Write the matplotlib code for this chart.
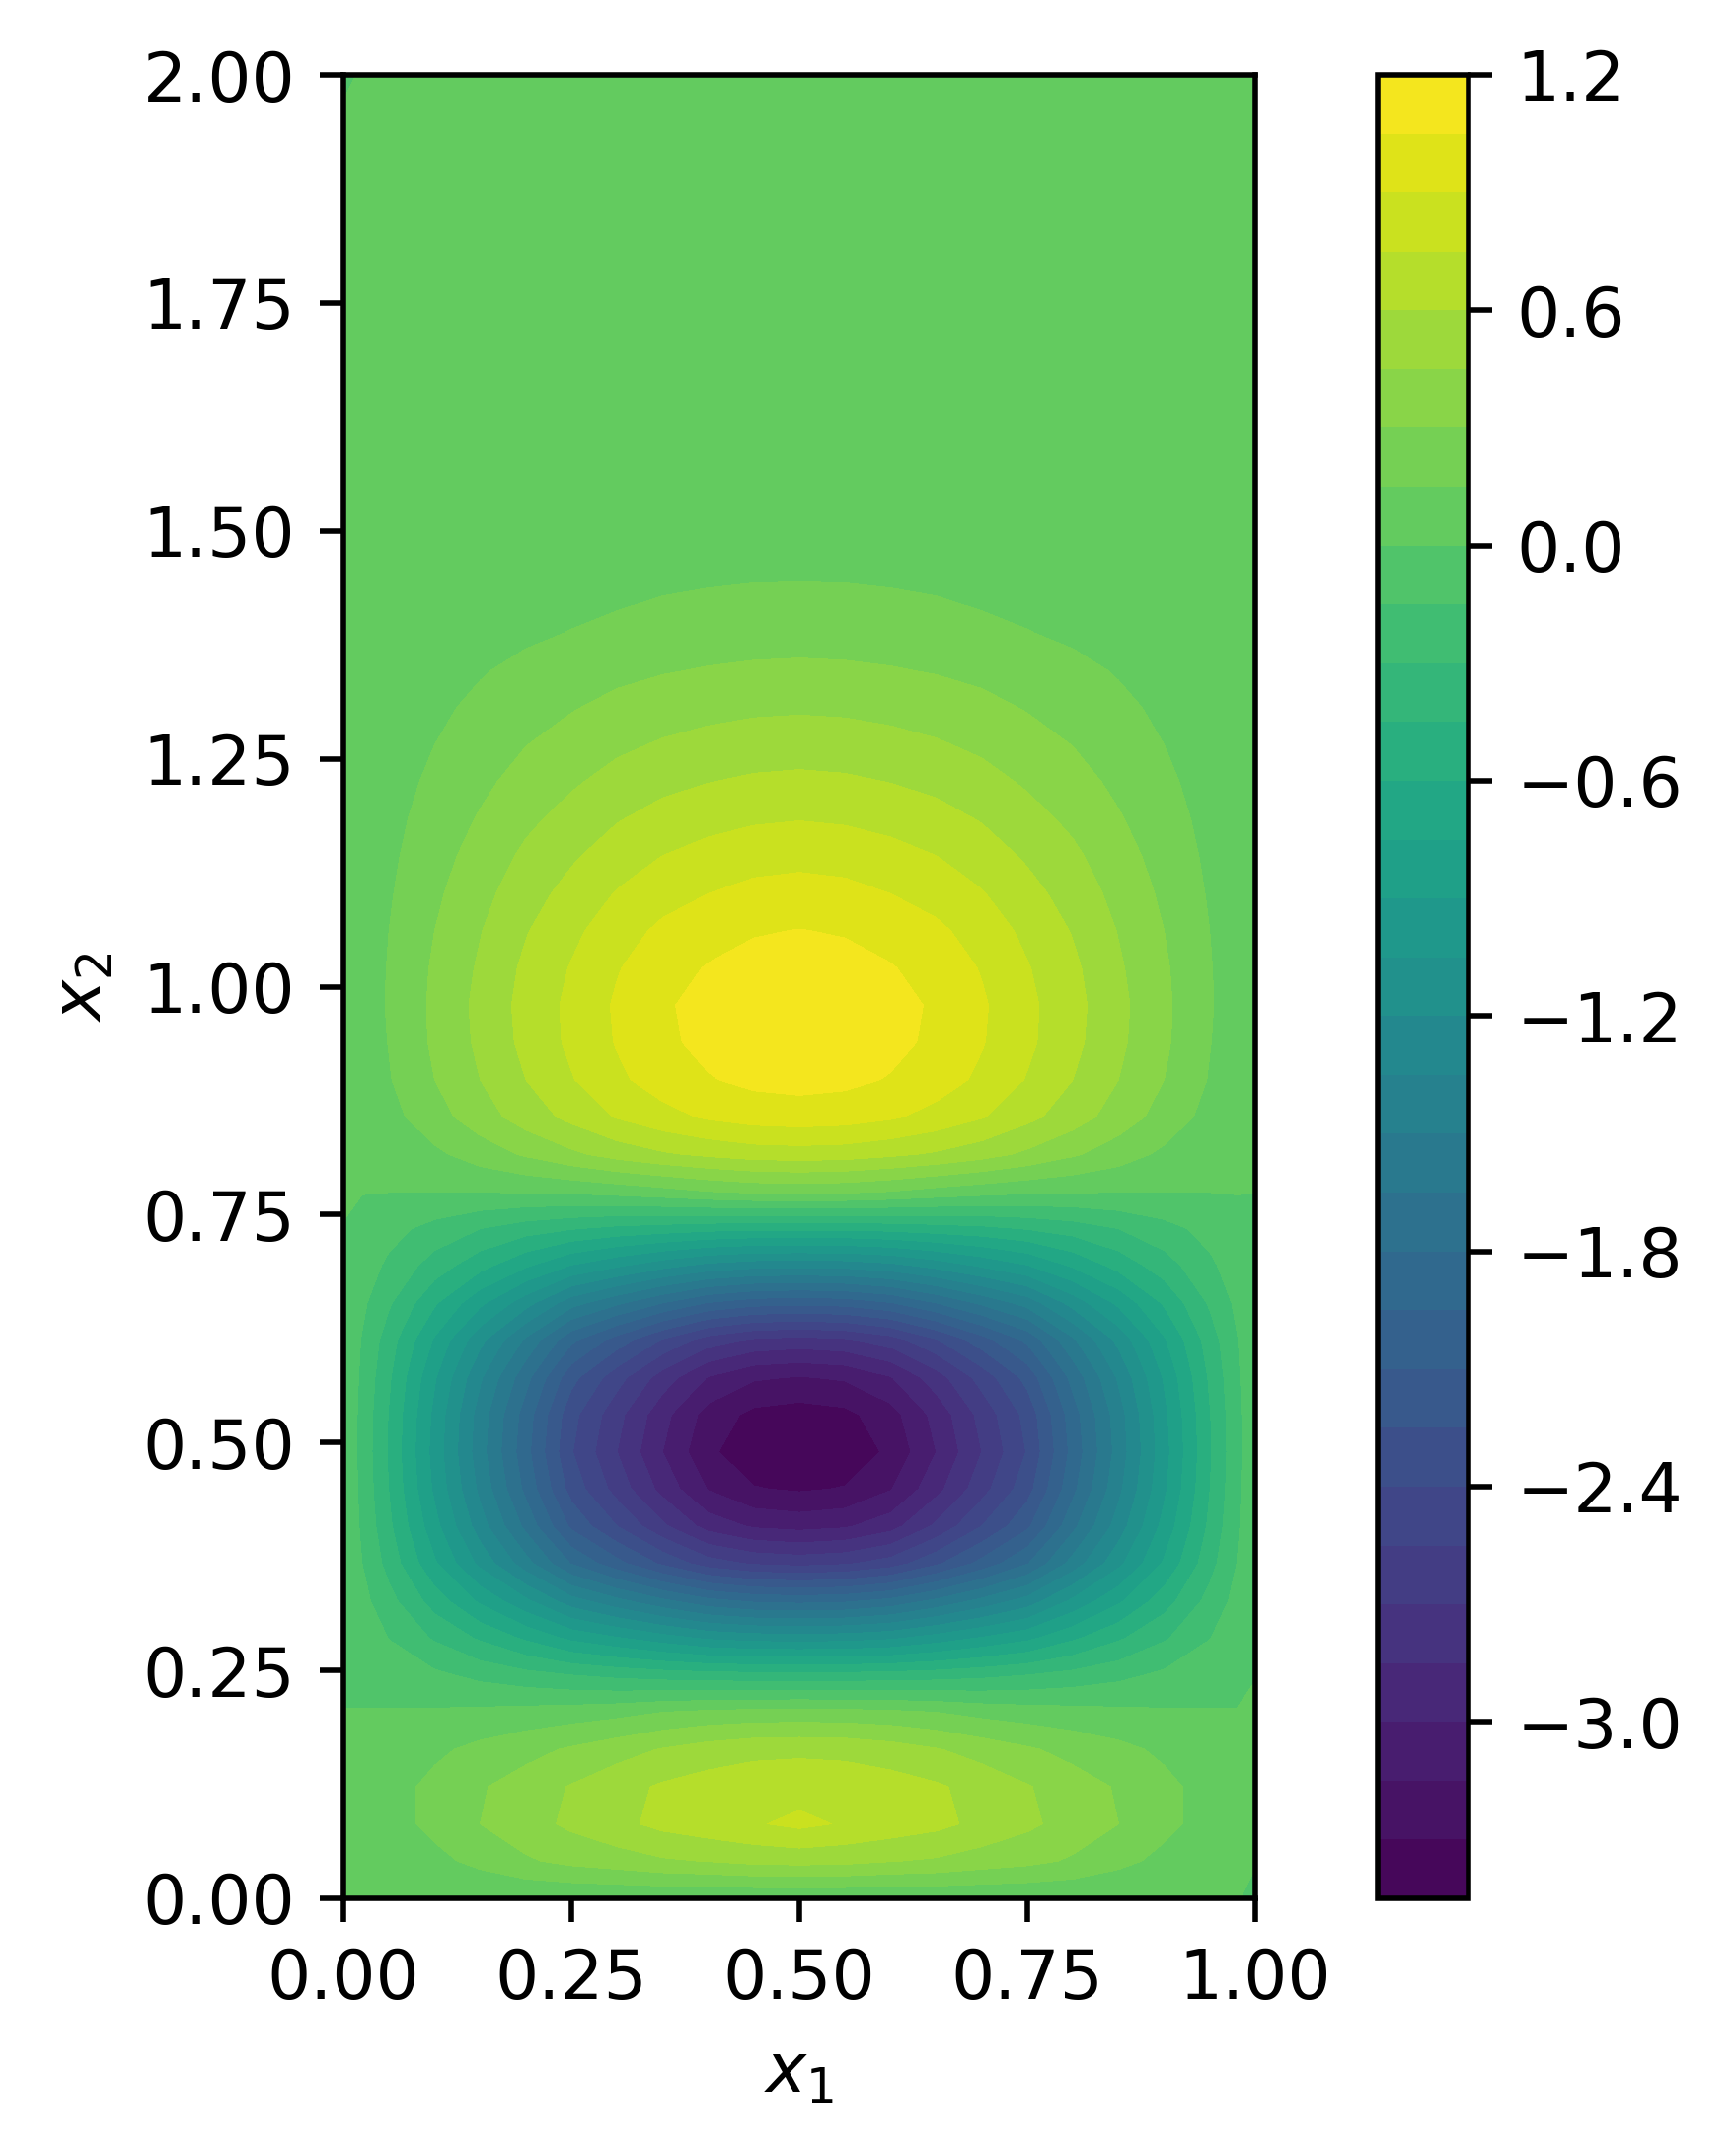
import numpy as np
import matplotlib
matplotlib.use("Agg")
import matplotlib.pyplot as plt

x1_half = [0.0204, 0.05, 0.10, 0.15, 0.20, 0.25, 0.30, 0.35, 0.40, 0.45, 0.50]
x2_rows = [0.0, 0.0408, 0.0816, 0.1224, 0.1633, 0.2041, 0.2449, 0.2857, 0.3265, 0.3673,
           0.4082, 0.4490, 0.4898, 0.5306, 0.5714, 0.6122, 0.6531, 0.6939, 0.7347, 0.7755,
           0.8163, 0.8571, 0.8980, 0.9388, 0.9796, 1.0204, 1.0612, 1.1020, 1.1429, 1.1837,
           1.2245, 1.2653, 1.3061, 1.3469, 1.3878, 1.4286, 1.4694, 1.55, 1.75, 1.9592, 2.0]
left_edge = [0.005, 0.02, 0.03, 0.03, 0.02, 0.001, -0.008, -0.012, -0.015, -0.02,
             -0.02, -0.02, -0.02, -0.02, -0.02, -0.02, -0.015, -0.012, -0.002, 0.008,
             0.02, 0.02, 0.02, 0.02, 0.02, 0.02, 0.02, 0.02, 0.02, 0.02,
             0.02, 0.02, 0.02, 0.02, 0.02, 0.02, 0.02, 0.02, 0.02, 0.01, -0.02]
right_edge = [-0.02, 0.005, 0.02, 0.02, 0.02, 0.01, -0.002, -0.012, -0.015, -0.02,
              -0.02, -0.02, -0.02, -0.02, -0.02, -0.02, -0.015, -0.012, -0.008, 0.0005,
              0.02, 0.02, 0.02, 0.02, 0.02, 0.02, 0.02, 0.02, 0.02, 0.02,
              0.02, 0.02, 0.02, 0.02, 0.02, 0.02, 0.02, 0.02, 0.02, 0.02, 0.02]
field_half = [
    [0.005, 0.008, 0.01, 0.01, 0.01, 0.01, 0.01, 0.01, 0.01, 0.01, 0.01],
    [0.015, 0.05, 0.11, 0.19, 0.28, 0.34, 0.38, 0.43, 0.455, 0.49, 0.50],
    [0.03, 0.09, 0.19, 0.30, 0.39, 0.48, 0.56, 0.64, 0.69, 0.735, 0.785],
    [0.03, 0.09, 0.19, 0.285, 0.37, 0.46, 0.545, 0.62, 0.665, 0.685, 0.69],
    [0.012, 0.05, 0.12, 0.19, 0.25, 0.32, 0.39, 0.46, 0.52, 0.56, 0.57],
    [0.0015, 0.008, 0.015, 0.03, 0.05, 0.07, 0.10, 0.15, 0.18, 0.195, 0.20],
    [-0.012, -0.06, -0.12, -0.19, -0.25, -0.30, -0.34, -0.37, -0.39, -0.40, -0.40],
    [-0.06, -0.155, -0.32, -0.475, -0.63, -0.79, -0.89, -0.99, -1.08, -1.12, -1.13],
    [-0.105, -0.25, -0.52, -0.78, -1.02, -1.29, -1.46, -1.62, -1.76, -1.83, -1.85],
    [-0.15, -0.355, -0.73, -1.09, -1.44, -1.81, -2.05, -2.28, -2.48, -2.57, -2.60],
    [-0.175, -0.42, -0.85, -1.28, -1.69, -2.13, -2.40, -2.67, -2.91, -3.02, -3.05],
    [-0.19, -0.455, -0.93, -1.39, -1.84, -2.31, -2.61, -2.90, -3.16, -3.29, -3.32],
    [-0.20, -0.47, -0.96, -1.44, -1.90, -2.39, -2.70, -3.00, -3.27, -3.40, -3.43],
    [-0.195, -0.46, -0.94, -1.42, -1.87, -2.35, -2.65, -2.95, -3.21, -3.34, -3.37],
    [-0.18, -0.43, -0.885, -1.33, -1.75, -2.20, -2.49, -2.77, -3.01, -3.13, -3.16],
    [-0.16, -0.38, -0.77, -1.16, -1.53, -1.92, -2.17, -2.42, -2.63, -2.73, -2.76],
    [-0.12, -0.28, -0.58, -0.865, -1.14, -1.44, -1.62, -1.80, -1.96, -2.04, -2.06],
    [-0.075, -0.18, -0.37, -0.55, -0.73, -0.91, -1.03, -1.15, -1.25, -1.30, -1.31],
    [-0.02, -0.10, -0.20, -0.30, -0.38, -0.44, -0.49, -0.52, -0.55, -0.57, -0.57],
    [0.002, 0.003, 0.005, 0.008, 0.015, 0.03, 0.06, 0.10, 0.15, 0.185, 0.20],
    [0.02, 0.05, 0.12, 0.22, 0.32, 0.42, 0.51, 0.58, 0.63, 0.67, 0.68],
    [0.03, 0.10, 0.24, 0.38, 0.52, 0.64, 0.76, 0.85, 0.92, 0.965, 0.98],
    [0.06, 0.14, 0.30, 0.45, 0.60, 0.74, 0.87, 0.97, 1.04, 1.085, 1.10],
    [0.063, 0.155, 0.325, 0.48, 0.64, 0.78, 0.91, 1.02, 1.09, 1.135, 1.15],
    [0.064, 0.165, 0.33, 0.49, 0.65, 0.785, 0.92, 1.03, 1.10, 1.145, 1.16],
    [0.062, 0.16, 0.32, 0.47, 0.63, 0.76, 0.89, 0.99, 1.06, 1.105, 1.12],
    [0.058, 0.15, 0.30, 0.443, 0.59, 0.714, 0.837, 0.93, 0.99, 1.037, 1.055],
    [0.053, 0.136, 0.273, 0.403, 0.538, 0.65, 0.76, 0.845, 0.90, 0.944, 0.96],
    [0.047, 0.121, 0.243, 0.36, 0.48, 0.58, 0.678, 0.752, 0.804, 0.84, 0.855],
    [0.041, 0.106, 0.212, 0.313, 0.417, 0.504, 0.59, 0.655, 0.70, 0.732, 0.745],
    [0.035, 0.09, 0.18, 0.267, 0.356, 0.43, 0.504, 0.559, 0.597, 0.624, 0.635],
    [0.029, 0.075, 0.15, 0.223, 0.297, 0.359, 0.42, 0.466, 0.498, 0.521, 0.53],
    [0.024, 0.061, 0.122, 0.18, 0.24, 0.29, 0.34, 0.378, 0.404, 0.423, 0.43],
    [0.02, 0.05, 0.094, 0.139, 0.185, 0.223, 0.262, 0.29, 0.31, 0.324, 0.33],
    [0.015, 0.04, 0.07, 0.095, 0.125, 0.155, 0.18, 0.21, 0.226, 0.236, 0.24],
    [0.012, 0.03, 0.05, 0.07, 0.09, 0.11, 0.13, 0.15, 0.165, 0.177, 0.18],
    [0.01, 0.02, 0.035, 0.05, 0.06, 0.07, 0.08, 0.09, 0.095, 0.10, 0.10],
    [0.01, 0.02, 0.03, 0.04, 0.05, 0.05, 0.05, 0.06, 0.06, 0.06, 0.06],
    [0.01, 0.02, 0.03, 0.04, 0.04, 0.05, 0.05, 0.05, 0.05, 0.05, 0.05],
    [0.02, 0.02, 0.03, 0.03, 0.04, 0.04, 0.04, 0.04, 0.04, 0.04, 0.04],
    [0.01, 0.02, 0.03, 0.03, 0.04, 0.04, 0.04, 0.04, 0.04, 0.04, 0.04],
]
contour_levels = [-3.45, -3.3, -3.15, -3.0, -2.85, -2.7, -2.55, -2.4, -2.25, -2.1, -1.95, -1.8,
                  -1.65, -1.5, -1.35, -1.2, -1.05, -0.9, -0.75, -0.6, -0.45, -0.3, -0.15, 0.0,
                  0.15, 0.3, 0.45, 0.6, 0.75, 0.9, 1.05, 1.2]
colorbar_ticks = [-3.0, -2.4, -1.8, -1.2, -0.6, 0.0, 0.6, 1.2]
x_ticks = [0.0, 0.25, 0.5, 0.75, 1.0]
y_ticks = [0.0, 0.25, 0.5, 0.75, 1.0, 1.25, 1.5, 1.75, 2.0]

half = np.array(x1_half)
x1 = np.concatenate([[0.0], half, 1.0 - half[-2::-1], [1.0]])
rows = np.array(field_half)
Z = np.column_stack([left_edge, rows, rows[:, -2::-1], right_edge])

W, H = 1755, 2184
fig = plt.figure(figsize=(W / 500, H / 500), dpi=500)
ax = fig.add_axes([348 / W, 1 - 1923 / H, 924 / W, 1847 / H])
cax = fig.add_axes([1396 / W, 1 - 1923 / H, 92 / W, 1847 / H])

cs = ax.contourf(x1, x2_rows, Z, levels=contour_levels, cmap="viridis")
ax.set_xlim(0, 1)
ax.set_ylim(0, 2)
ax.set_xticks(x_ticks)
ax.set_yticks(y_ticks)
ax.set_xticklabels(["%.2f" % v for v in x_ticks])
ax.set_yticklabels(["%.2f" % v for v in y_ticks])
ax.set_xlabel(r"$x_1$")
ax.set_ylabel(r"$x_2$")

cb = fig.colorbar(cs, cax=cax)
cb.set_ticks(colorbar_ticks)

fig.savefig("out.png", dpi=500)
